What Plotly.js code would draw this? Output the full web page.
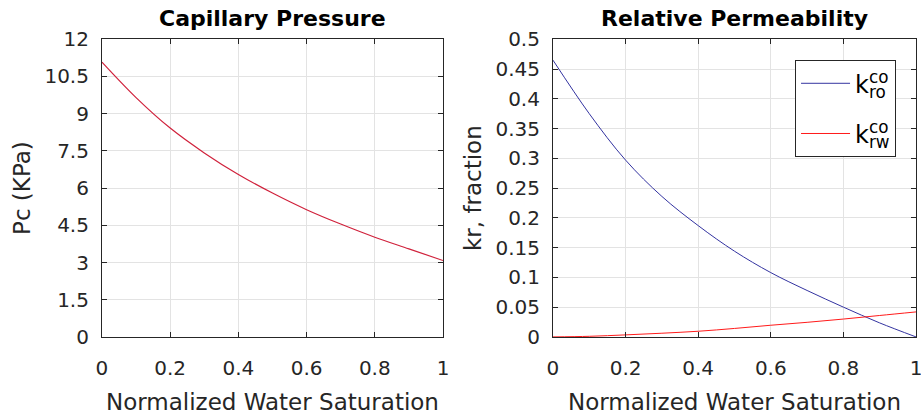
<!DOCTYPE html>
<html><head><meta charset="utf-8">
<script src="https://cdn.plot.ly/plotly-3.0.1.min.js"></script>
<style>html,body{margin:0;padding:0;background:#fff}#plot{width:921px;height:418px}</style>
</head><body><div id="plot"></div>
<script>
// Normalized water saturation sample points
const sw = [0, 0.1, 0.2, 0.3, 0.4, 0.5, 0.6, 0.7, 0.8, 0.9, 1.0];
// Capillary pressure (KPa)
const pc = [11.08, 9.65, 8.42, 7.42, 6.55, 5.80, 5.13, 4.55, 4.02, 3.55, 3.08];
// Relative permeability
const kro = [0.465, 0.375, 0.297, 0.236, 0.187, 0.144, 0.108, 0.078, 0.050, 0.0235, 0.0];
const krw = [0.0, 0.001, 0.0034, 0.0062, 0.0095, 0.0142, 0.0196, 0.0245, 0.030, 0.036, 0.042];
const xTicks = [0, 0.2, 0.4, 0.6, 0.8, 1];
const xTickText = ['0', '0.2', '0.4', '0.6', '0.8', '1'];
const pcTicks = [0, 1.5, 3, 4.5, 6, 7.5, 9, 10.5, 12];
const pcTickText = ['0', '1.5', '3', '4.5', '6', '7.5', '9', '10.5', '12'];
const krTicks = [0, 0.05, 0.1, 0.15, 0.2, 0.25, 0.3, 0.35, 0.4, 0.45, 0.5];
const krTickText = ['0', '0.05', '0.1', '0.15', '0.2', '0.25', '0.3', '0.35', '0.4', '0.45', '0.5'];
// legend names: superscript "co" stacked over subscript
const kroName = 'k<sup>c<span style="letter-spacing:-1.162em">o</span></sup><sub>ro</sub>';
const krwName = 'k<sup>c<span style="letter-spacing:-1.162em">o</span></sup><sub>rw</sub>';

const FONT = 'DejaVu Sans, Liberation Sans, Arial, sans-serif';
const TXT = '#262626';

const traces = [
  {x: sw, y: pc, xaxis: 'x', yaxis: 'y', mode: 'lines', line: {color: '#d0223c', width: 1.2, shape: 'spline'}, showlegend: false, name: 'Pc'},
  {x: sw, y: kro, xaxis: 'x2', yaxis: 'y2', mode: 'lines', line: {color: '#3333a0', width: 1, shape: 'spline'}, name: kroName, legendgroup: 'a'},
  {x: sw, y: krw, xaxis: 'x2', yaxis: 'y2', mode: 'lines', line: {color: '#ff1a1a', width: 1, shape: 'spline'}, name: krwName, legendgroup: 'b'}
];

function xax(domain, anchor) {
  return {domain: domain, anchor: anchor, range: [0, 1], tickvals: xTicks, ticktext: xTickText,
    ticks: 'inside', ticklen: 5, tickcolor: TXT, showline: true, linecolor: TXT, linewidth: 1, mirror: 'ticks',
    showgrid: true, gridcolor: '#e3e3e3', zeroline: false, ticklabelstandoff: 13, ticklabeloverflow: 'allow',
    tickfont: {family: FONT, size: 20, color: TXT},
    title: {text: 'Normalized Water Saturation', font: {family: FONT, size: 23, color: TXT}, standoff: 14}};
}
function yax(domain, anchor, tv, tt, title) {
  return {domain: domain, anchor: anchor, range: [tv[0], tv[tv.length - 1]], tickvals: tv, ticktext: tt,
    ticks: 'inside', ticklen: 5, tickcolor: TXT, showline: true, linecolor: TXT, linewidth: 1, mirror: 'ticks',
    showgrid: true, gridcolor: '#e3e3e3', zeroline: false, ticklabelstandoff: 8, ticklabeloverflow: 'allow',
    tickfont: {family: FONT, size: 20, color: TXT},
    title: {text: title, font: {family: FONT, size: 23, color: TXT}, standoff: 7}};
}

const layout = {
  width: 921, height: 418, margin: {l: 0, r: 0, t: 0, b: 0},
  paper_bgcolor: '#fff', plot_bgcolor: '#fff',
  xaxis: xax([0.1107, 0.481], 'y'),
  yaxis: yax([0.194, 0.906], 'x', pcTicks, pcTickText, 'Pc (KPa)'),
  xaxis2: xax([0.6004, 0.9946], 'y2'),
  yaxis2: yax([0.194, 0.906], 'x2', krTicks, krTickText, 'kr, fraction'),
  showlegend: true,
  legend: {x: 0.9729, y: 0.856, xanchor: 'right', yanchor: 'top', bgcolor: '#fff', bordercolor: TXT, borderwidth: 1,
    font: {family: FONT, size: 24, color: '#000'}, tracegroupgap: 16, itemwidth: 49},
  annotations: [
    {text: '<b>Capillary Pressure</b>', xref: 'paper', yref: 'paper', x: 0.2958, y: 0.955, xanchor: 'center', yanchor: 'middle', showarrow: false, font: {family: FONT, size: 22, color: '#000'}},
    {text: '<b>Relative Permeability</b>', xref: 'paper', yref: 'paper', x: 0.7975, y: 0.955, xanchor: 'center', yanchor: 'middle', showarrow: false, font: {family: FONT, size: 22, color: '#000'}}
  ]
};

Plotly.newPlot('plot', traces, layout, {displayModeBar: false, staticPlot: true});
</script></body></html>
